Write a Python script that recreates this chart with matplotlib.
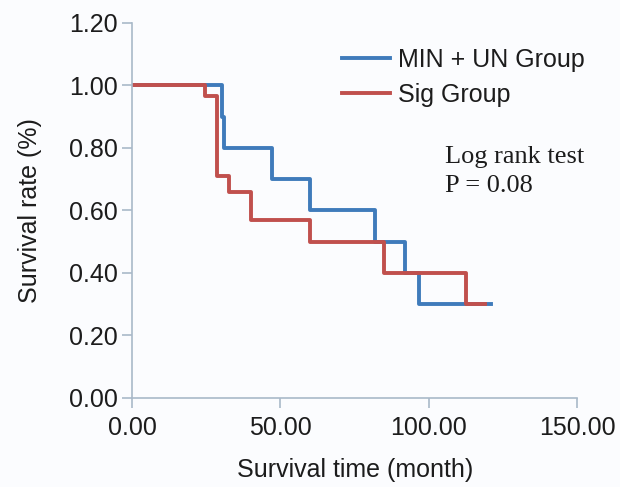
import matplotlib
matplotlib.use("Agg")
import matplotlib.pyplot as plt
from matplotlib.ticker import FormatStrFormatter

plt.rcParams['font.family'] = ['Liberation Sans', 'DejaVu Sans']

# Kaplan-Meier steps (months, survival)
t_min_un = [0, 30.4, 31.0, 47.3, 60.1, 82.0, 92.0, 96.6, 121.0]
s_min_un = [1.00, 0.90, 0.80, 0.70, 0.60, 0.50, 0.40, 0.30, 0.30]

t_sig = [0, 24.7, 28.7, 32.8, 40.2, 59.8, 84.8, 112.5, 119.0]
s_sig = [1.00, 0.967, 0.71, 0.66, 0.57, 0.50, 0.40, 0.30, 0.30]

x_ticks = [0, 50, 100, 150]
y_ticks = [0.0, 0.2, 0.4, 0.6, 0.8, 1.0, 1.2]

blue = '#3f7bbb'
red = '#c0504d'
spine_col = '#a9b9c9'
txt_col = '#1c1c1c'
fs = 18

fig = plt.figure(figsize=(6.2, 4.87), dpi=100)
fig.patch.set_facecolor('#fbfcfe')
ax = fig.add_axes([0.213, 0.183, 0.718, 0.770])
ax.set_facecolor('#fbfcfe')

ax.step(t_min_un, s_min_un, where='post', color=blue, lw=2.8, label='MIN + UN Group')
ax.step(t_sig, s_sig, where='post', color=red, lw=2.8, label='Sig Group')

ax.set_xlim(0, 150)
ax.set_ylim(0, 1.2)
ax.set_xticks(x_ticks)
ax.set_yticks(y_ticks)
ax.xaxis.set_major_formatter(FormatStrFormatter('%.2f'))
ax.yaxis.set_major_formatter(FormatStrFormatter('%.2f'))

for side in ['top', 'right']:
    ax.spines[side].set_visible(False)
for side in ['left', 'bottom']:
    ax.spines[side].set_color(spine_col)
    ax.spines[side].set_linewidth(1.2)
ax.tick_params(colors=spine_col, labelcolor=txt_col, labelsize=fs, length=7, width=1.2)
ax.tick_params(axis='x', pad=6)
ax.tick_params(axis='y', pad=3)

ax.set_xlabel('Survival time (month)', fontsize=fs, color=txt_col, labelpad=13)
ax.set_ylabel('Survival rate (%)', fontsize=fs, color=txt_col, labelpad=20)

ax.legend(loc='upper left', bbox_to_anchor=(0.472, 0.934), frameon=False, fontsize=fs,
          borderpad=0, borderaxespad=0, handlelength=1.9, handletextpad=0.32,
          labelspacing=0.45, labelcolor=txt_col)

ax.text(0.703, 0.672, 'Log rank test\nP = 0.08', transform=ax.transAxes, fontsize=19,
        family=['Liberation Serif', 'DejaVu Serif'], color=txt_col, va='top', linespacing=1.4)

fig.savefig('out.png', dpi=100, facecolor=fig.get_facecolor())
